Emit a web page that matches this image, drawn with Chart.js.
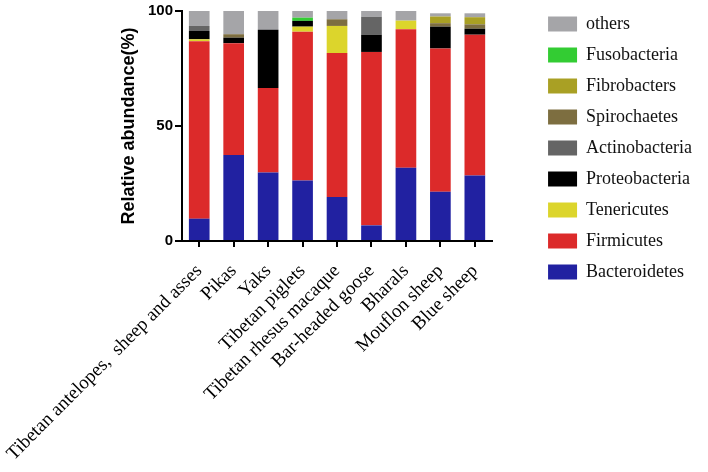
<!DOCTYPE html>
<html>
<head>
<meta charset="utf-8">
<script src="https://cdn.jsdelivr.net/npm/chart.js@4.4.1/dist/chart.umd.min.js"></script>
<style>
  html, body { margin: 0; padding: 0; background: #fff; }
  #wrap { width: 708px; height: 472px; position: relative; }
</style>
</head>
<body>
<div id="wrap"><canvas id="c"></canvas></div>
<script>
const categories = ["Tibetan antelopes,  sheep and asses", "Pikas", "Yaks", "Tibetan piglets",
  "Tibetan rhesus macaque", "Bar-headed goose", "Bharals", "Mouflon sheep", "Blue sheep"];

const bacteroidetes  = [9.7, 37.4, 29.8, 26.3, 19.1, 6.8, 31.8, 21.4, 28.5];
const firmicutes     = [77.2, 48.6, 36.7, 64.7, 62.6, 75.4, 60.3, 62.3, 61.2];
const tenericutes    = [0.8, 0, 0, 2.2, 11.8, 0, 3.7, 0, 0];
const proteobacteria = [3.6, 2.4, 25.3, 2.5, 0, 7.5, 0, 9.5, 2.6];
const actinobacteria = [2.2, 0, 0, 0, 0, 7.8, 0, 0, 0];
const spirochaetes   = [0, 1.5, 0, 0, 2.9, 0, 0, 1.5, 1.9];
const fibrobacters   = [0, 0, 0, 0, 0, 0, 0, 2.9, 3.1];
const fusobacteria   = [0, 0, 0, 1.4, 0, 0, 0, 0, 0];
const others         = [6.5, 10.1, 8.2, 2.9, 3.6, 2.5, 4.2, 1.4, 1.7];

const yTicks = [0, 50, 100];

const seriesNames = ["Bacteroidetes", "Firmicutes", "Tenericutes", "Proteobacteria", "Actinobacteria",
  "Spirochaetes", "Fibrobacters", "Fusobacteria", "others"];
const seriesData = [bacteroidetes, firmicutes, tenericutes, proteobacteria, actinobacteria,
  spirochaetes, fibrobacters, fusobacteria, others];
const seriesColors = ["#2121a1", "#dc2a2a", "#dcd52c", "#000000", "#656565",
  "#7d6e40", "#a9a024", "#33cc33", "#a5a5a8"];

const datasets = seriesNames.map((n, i) => ({
  label: n,
  data: seriesData[i],
  backgroundColor: seriesColors[i],
  borderWidth: 0,
  barPercentage: 0.6,
  categoryPercentage: 1.0
}));

const serif = "'Liberation Serif', 'Times New Roman', serif";
const sans = "'Liberation Sans', Arial, sans-serif";

// let the legend take its natural width instead of the layout's share cap
const legendWidthPlugin = {
  id: 'legendWidth',
  beforeLayout(chart) {
    const lg = chart.legend;
    if (lg && !lg.__wrapped) {
      const orig = lg.update.bind(lg);
      lg.update = (w, h, m) => orig(Math.max(w, 220), h, m);
      lg.__wrapped = true;
    }
  }
};

new Chart(document.getElementById('c'), {
  type: 'bar',
  data: { labels: categories, datasets },
  plugins: [legendWidthPlugin],
  options: {
    responsive: true,
    maintainAspectRatio: false,
    animation: false,
    devicePixelRatio: 1,
    layout: { padding: { left: 114, right: 6, top: 2, bottom: 0 } },
    plugins: {
      tooltip: { enabled: false },
      legend: {
        position: 'right',
        align: 'start',
        reverse: true,
        labels: {
          boxWidth: 29,
          boxHeight: 15,
          padding: 13,
          color: '#111',
          font: { family: serif, size: 18 }
        }
      }
    },
    scales: {
      x: {
        stacked: true,
        offset: true,
        grid: { display: true, drawOnChartArea: false, offset: false, tickLength: 6, lineWidth: 2, color: '#000' },
        border: { display: true, color: '#000', width: 2 },
        ticks: {
          minRotation: 45, maxRotation: 45, padding: 13, color: '#000',
          autoSkip: false,
          font: { family: serif, size: 19 }
        },
        afterFit: s => { s.height = 231; s.paddingLeft = 0; s.paddingRight = 0; }
      },
      y: {
        stacked: true,
        min: 0, max: 100,
        afterBuildTicks: s => { s.ticks = yTicks.map(v => ({ value: v })); },
        grid: { display: true, drawOnChartArea: false, tickLength: 7, lineWidth: 2, color: '#000' },
        border: { display: true, color: '#000', width: 2 },
        ticks: { padding: 2, color: '#000', font: { family: sans, size: 15, weight: 'bold' } },
        title: { display: true, text: 'Relative abundance(%)', color: '#000', font: { family: sans, size: 18, weight: 'bold' } },
        afterFit: s => { s.width = 68; }
      },
      y2: {
        type: 'linear',
        position: 'right',
        display: true,
        grid: { display: false },
        border: { display: false },
        ticks: { display: false },
        afterFit: s => { s.width = 43; }
      }
    }
  }
});
</script>
</body>
</html>
